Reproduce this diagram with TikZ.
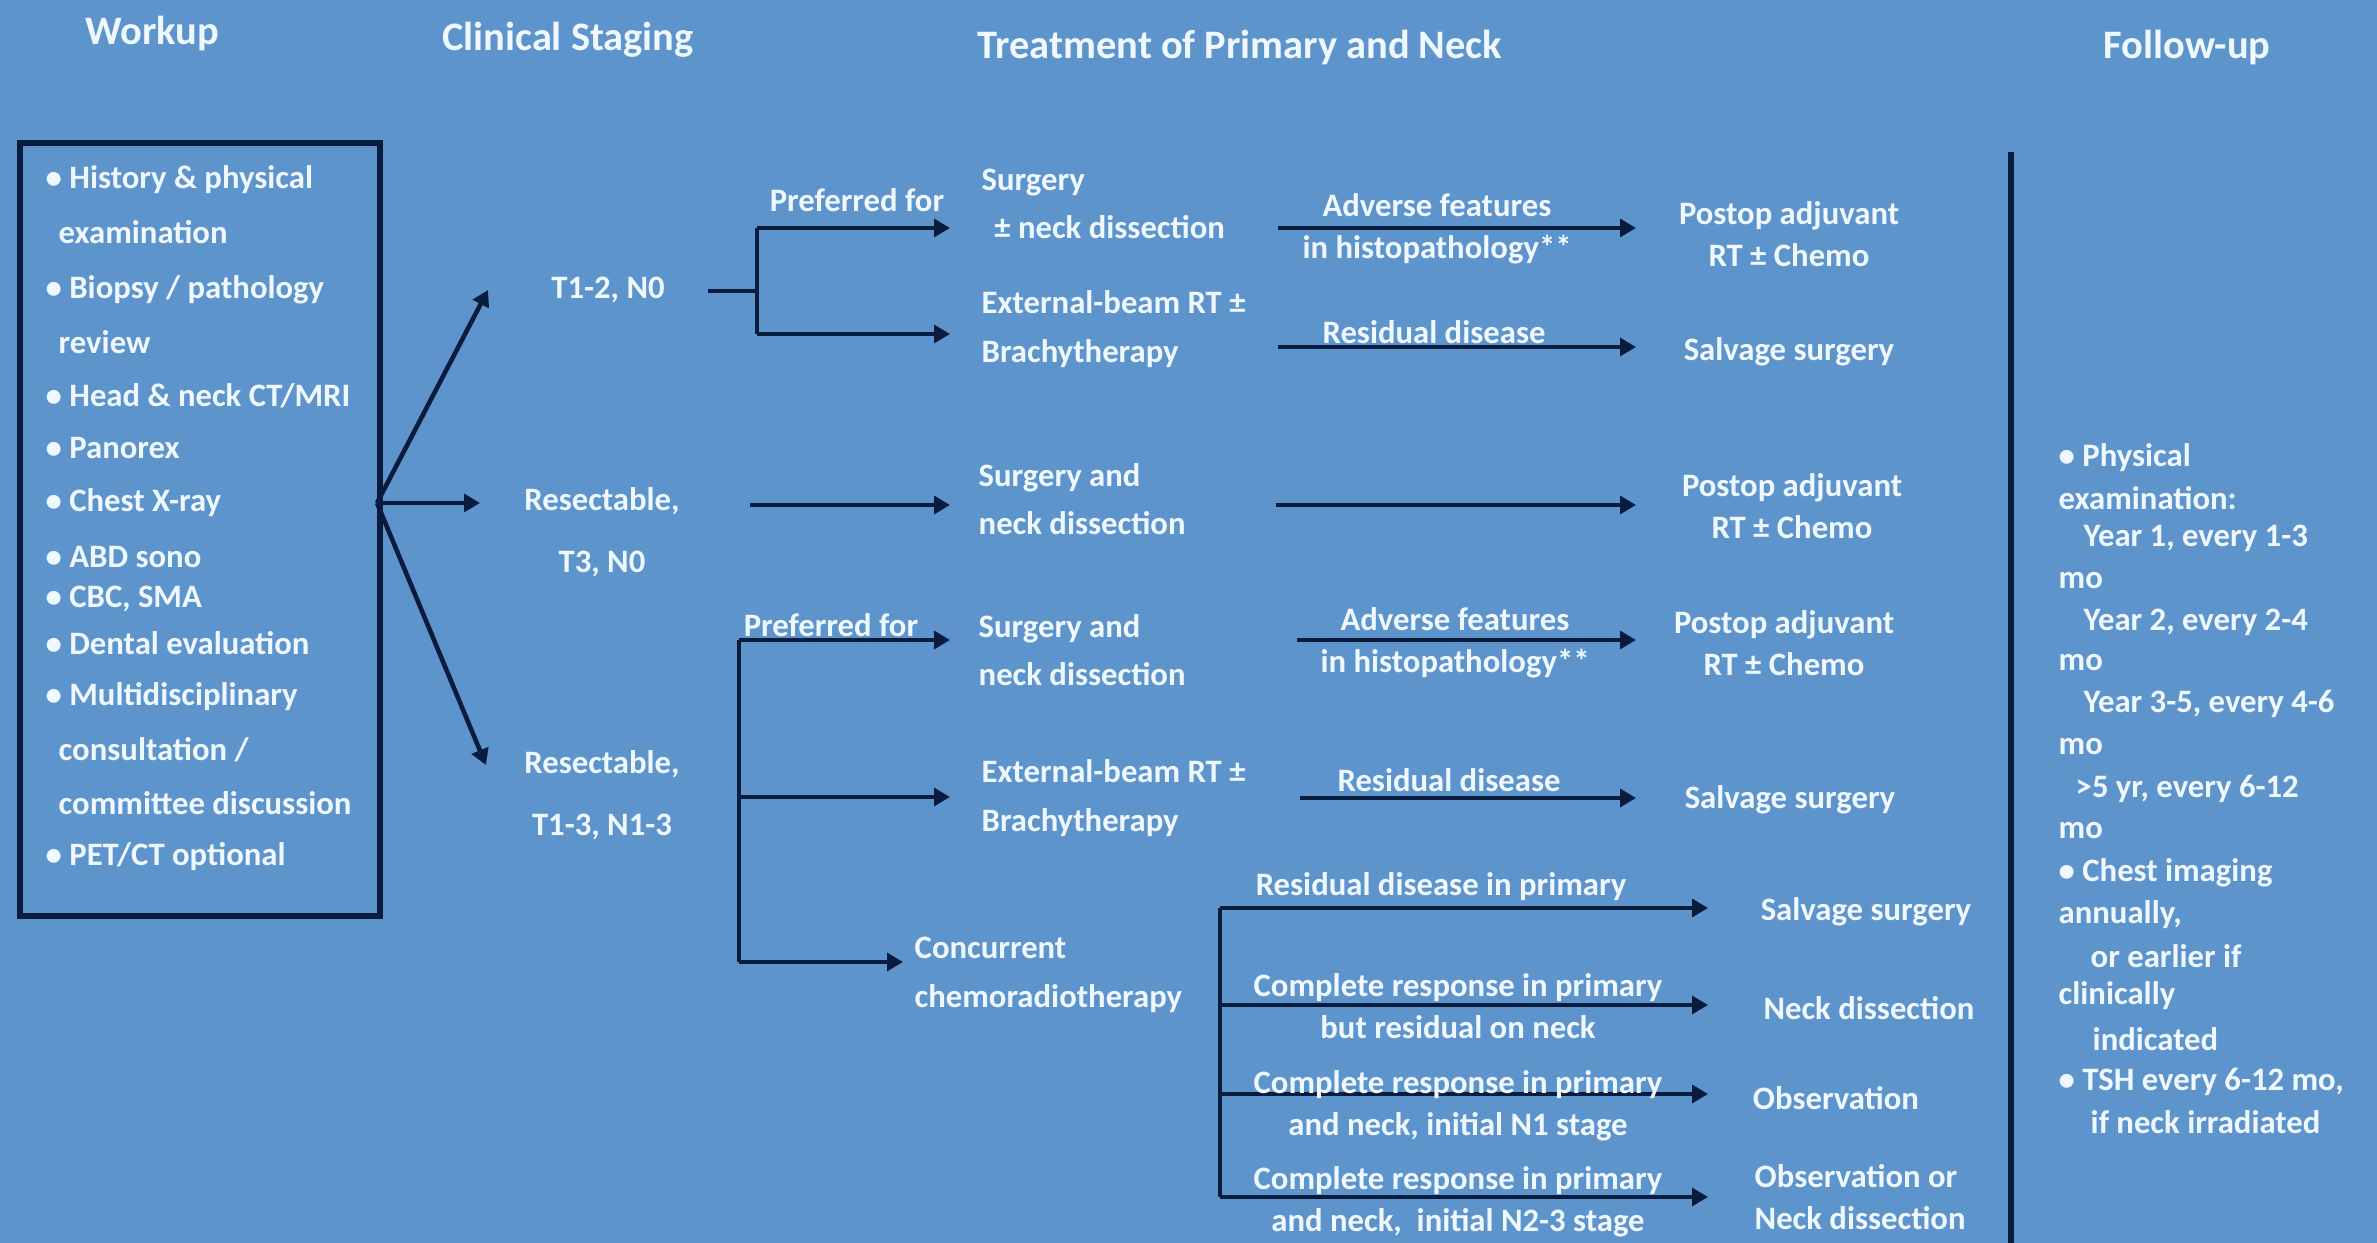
\documentclass[tikz,border=0pt]{standalone}
\usepackage{fontspec}
\setmainfont{Carlito}
\usetikzlibrary{arrows.meta}
\definecolor{bgblue}{RGB}{94,148,204}
\definecolor{navy}{RGB}{10,28,62}
\definecolor{txtw}{RGB}{240,248,255}
\begin{document}
\begin{tikzpicture}[x=0.01cm,y=-0.01cm,
  txt/.style={text=txtw,font=\fontsize{9.3}{13.8}\selectfont\bfseries,inner sep=0pt},
  lt/.style={txt,anchor=west,align=left},
  ct/.style={txt,align=center},
  lbl/.style={txt,align=center,font=\fontsize{9.3}{12}\selectfont\bfseries},
  stg/.style={txt,align=center,font=\fontsize{9.3}{17.5}\selectfont\bfseries},
  ttl/.style={text=txtw,font=\fontsize{11.5}{13}\selectfont\bfseries,inner sep=0pt},
  arr/.style={draw=navy,line width=1.3pt,-{Triangle[length=4.5pt,width=5pt]}},
  bar/.style={draw=navy,line width=1.3pt}]
\fill[bgblue] (0,0) rectangle (2377,1243);
\useasboundingbox (0,0) rectangle (2377,1243);

% titles
\node[ttl] (tw) at (152,33) {Workup};
\node[ttl] (ts) at (568,40) {Clinical Staging};
\node[ttl] (tt) at (1240,47) {Treatment of Primary and Neck};
\node[ttl] (tf) at (2187,47) {Follow-up};

% workup box
\node[draw=navy,line width=1.6pt,anchor=north west,minimum width=3.6cm,minimum height=7.73cm,inner sep=0pt] (workup) at (17,140) {};
\node[lt] (w1) at (45,180) {• History \& physical};
\node[lt] (w2) at (58,232) {examination};
\node[lt] (w3) at (45,290) {• Biopsy / pathology};
\node[lt] (w4) at (58,342) {review};
\node[lt] (w5) at (45,396) {• Head \& neck CT/MRI};
\node[lt] (w6) at (45,448) {• Panorex};
\node[lt] (w7) at (45,503) {• Chest X-ray};
\node[lt] (w8) at (45,557) {• ABD sono};
\node[lt] (w9) at (45,599) {• CBC, SMA};
\node[lt] (w10) at (45,643) {• Dental evaluation};
\node[lt] (w11) at (45,697) {• Multidisciplinary};
\node[lt] (w12) at (58,750) {consultation /};
\node[lt] (w13) at (58,803) {committee discussion};
\node[lt] (w14) at (45,857) {• PET/CT optional};

% staging
\node[stg] (s1) at (608,290) {T1-2, N0};
\node[stg] (s2) at (602,532) {Resectable,\\T3, N0};
\node[stg] (s3) at (602,795) {Resectable,\\T1-3, N1-3};

\coordinate (fan) at (377,503);
\coordinate (f1e) at (488,290);
\coordinate (f2e) at (480,503);
\coordinate (f3e) at (486,765);
\draw[arr] (fan) -- (f1e);
\draw[arr] (fan) -- (f2e);
\draw[arr] (fan) -- (f3e);

% T1-2 N0 branch
\coordinate (b1s) at (708,291);
\coordinate (b1m) at (757,291);
\coordinate (b1t) at (757,228);
\coordinate (b1b) at (757,334);
\coordinate (b1te) at (950,228);
\coordinate (b1be) at (950,334);
\draw[bar] (b1s) -- (b1m);
\draw[bar] (b1t) -- (b1b);
\draw[arr] (b1t) -- (b1te);
\draw[arr] (b1b) -- (b1be);
\node[txt] (pf1) at (857,200) {Preferred for};

\node[lt] (tA) at (981,204) {Surgery\\\hspace{3.6pt}± neck dissection};
\node[lt] (tB) at (981,329) {External-beam RT ±\\Brachytherapy};
\coordinate (aAs) at (1278,228);
\coordinate (aAe) at (1636,228);
\draw[arr] (aAs) -- (aAe);
\node[lbl] (lA) at (1437,229) {Adverse features\\in histopathology**};
\coordinate (aBs) at (1278,347);
\coordinate (aBe) at (1636,347);
\draw[arr] (aBs) -- (aBe);
\node[lbl] (lB) at (1434,332) {Residual disease};
\node[lbl] (rA) at (1789,234) {Postop adjuvant\\RT ± Chemo};
\node[lbl] (rB) at (1789,352) {Salvage surgery};

% T3 N0 branch
\coordinate (aCs) at (750,505);
\coordinate (aCe) at (950,505);
\draw[arr] (aCs) -- (aCe);
\node[lt] (tC) at (978,499) {Surgery and\\neck dissection};
\coordinate (aC2s) at (1276,505);
\coordinate (aC2e) at (1636,505);
\draw[arr] (aC2s) -- (aC2e);
\node[lbl] (rC) at (1792,506) {Postop adjuvant\\RT ± Chemo};

% T1-3 N1-3 branch
\coordinate (vT) at (739,640);
\coordinate (vM) at (739,797);
\coordinate (vB) at (739,962);
\draw[bar] (vT) -- (vB);
\coordinate (aDe) at (950,640);
\coordinate (aEe) at (950,797);
\coordinate (aFe) at (903,962);
\draw[arr] (vT) -- (aDe);
\draw[arr] (vM) -- (aEe);
\draw[arr] (vB) -- (aFe);
\node[txt] (pf2) at (831,625) {Preferred for};

\node[lt] (tD) at (978,650) {Surgery and\\neck dissection};
\node[lt] (tE) at (981,798) {External-beam RT ±\\Brachytherapy};
\node[lt] (tF) at (914,975) {Concurrent\\chemoradiotherapy};

\coordinate (aD2s) at (1297,640);
\coordinate (aD2e) at (1636,640);
\draw[arr] (aD2s) -- (aD2e);
\node[lbl] (lD) at (1455,643) {Adverse features\\in histopathology**};
\node[lbl] (rD) at (1784,643) {Postop adjuvant\\RT ± Chemo};

\coordinate (aE2s) at (1300,798);
\coordinate (aE2e) at (1636,798);
\draw[arr] (aE2s) -- (aE2e);
\node[lbl] (lE) at (1449,780) {Residual disease};
\node[lbl] (rE) at (1790,800) {Salvage surgery};

% concurrent branch
\coordinate (c1) at (1220,908);
\coordinate (c2) at (1220,1005);
\coordinate (c3) at (1220,1094);
\coordinate (c4) at (1220,1197);
\draw[bar] (c1) -- (c4);
\coordinate (c1e) at (1708,908);
\coordinate (c2e) at (1708,1005);
\coordinate (c3e) at (1708,1094);
\coordinate (c4e) at (1708,1197);
\draw[arr] (c1) -- (c1e);
\draw[arr] (c2) -- (c2e);
\draw[arr] (c3) -- (c3e);
\draw[arr] (c4) -- (c4e);
\node[lbl] (lc1) at (1441,887) {Residual disease in primary};
\node[lbl] (lc2) at (1458,1006) {Complete response in primary\\but residual on neck};
\node[lbl] (lc3) at (1458,1106) {Complete response in primary\\and neck, initial N1 stage};
\node[lbl] (lc4) at (1458,1202) {Complete response in primary\\and neck,\ \ initial N2-3 stage};
\node[lbl] (rc1) at (1866,912) {Salvage surgery};
\node[lbl] (rc2) at (1869,1008) {Neck dissection};
\node[lbl] (rc3) at (1836,1098) {Observation};
\node[lbl,anchor=west,align=left] (rc4) at (1754,1197) {Observation or\\Neck dissection};

% follow-up
\coordinate (fuT) at (2011,152);
\coordinate (fuB) at (2011,1243);
\draw[draw=navy,line width=1.6pt] (fuT) -- (fuB);
\node[lt] (u1) at (2058,458) {• Physical};
\node[lt] (u2) at (2058,498) {examination:};
\node[lt] (u3) at (2083,538) {Year 1, every 1-3};
\node[lt] (u4) at (2058,581) {mo};
\node[lt] (u5) at (2083,622) {Year 2, every 2-4};
\node[lt] (u6) at (2058,663) {mo};
\node[lt] (u7) at (2083,704) {Year 3-5, every 4-6};
\node[lt] (u8) at (2058,747) {mo};
\node[lt] (u9) at (2075,789) {>5 yr, every 6-12};
\node[lt] (u10) at (2058,831) {mo};
\node[lt] (u11) at (2058,873) {• Chest imaging};
\node[lt] (u12) at (2058,915) {annually,};
\node[lt] (u13) at (2090,956) {or earlier if};
\node[lt] (u14) at (2058,996) {clinically};
\node[lt] (u15) at (2092,1039) {indicated};
\node[lt] (u16) at (2058,1082) {• TSH every 6-12 mo,};
\node[lt] (u17) at (2090,1122) {if neck irradiated};
\end{tikzpicture}
\end{document}
